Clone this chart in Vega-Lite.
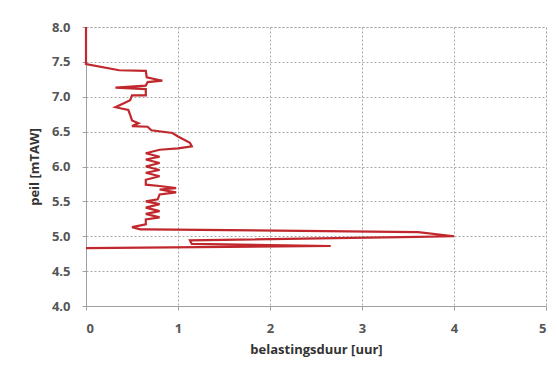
{
  "$schema": "https://vega.github.io/schema/vega-lite/v6.json",
  "autosize": "none",
  "width": 460,
  "height": 279,
  "padding": {"left": 86, "top": 27, "right": 11, "bottom": 73},
  "background": "white",
  "data": {"values": [
    {"i": 1, "duur": 0, "peil": 8.0},
    {"i": 2, "duur": 0, "peil": 7.47},
    {"i": 3, "duur": 0.36, "peil": 7.38},
    {"i": 4, "duur": 0.65, "peil": 7.37},
    {"i": 5, "duur": 0.66, "peil": 7.28},
    {"i": 6, "duur": 0.83, "peil": 7.23},
    {"i": 7, "duur": 0.67, "peil": 7.21},
    {"i": 8, "duur": 0.65, "peil": 7.16},
    {"i": 9, "duur": 0.32, "peil": 7.13},
    {"i": 10, "duur": 0.65, "peil": 7.11},
    {"i": 11, "duur": 0.65, "peil": 7.02},
    {"i": 12, "duur": 0.5, "peil": 7.02},
    {"i": 13, "duur": 0.48, "peil": 6.95},
    {"i": 14, "duur": 0.4, "peil": 6.9},
    {"i": 15, "duur": 0.32, "peil": 6.85},
    {"i": 16, "duur": 0.46, "peil": 6.81},
    {"i": 17, "duur": 0.48, "peil": 6.74},
    {"i": 18, "duur": 0.5, "peil": 6.66},
    {"i": 19, "duur": 0.57, "peil": 6.62},
    {"i": 20, "duur": 0.5, "peil": 6.58},
    {"i": 21, "duur": 0.67, "peil": 6.57},
    {"i": 22, "duur": 0.71, "peil": 6.52},
    {"i": 23, "duur": 0.94, "peil": 6.48},
    {"i": 24, "duur": 1.0, "peil": 6.43},
    {"i": 25, "duur": 1.13, "peil": 6.34},
    {"i": 26, "duur": 1.15, "peil": 6.29},
    {"i": 27, "duur": 1.0, "peil": 6.26},
    {"i": 28, "duur": 0.8, "peil": 6.24},
    {"i": 29, "duur": 0.65, "peil": 6.19},
    {"i": 30, "duur": 0.8, "peil": 6.14},
    {"i": 31, "duur": 0.65, "peil": 6.1},
    {"i": 32, "duur": 0.8, "peil": 6.05},
    {"i": 33, "duur": 0.65, "peil": 6.0},
    {"i": 34, "duur": 0.8, "peil": 5.95},
    {"i": 35, "duur": 0.65, "peil": 5.91},
    {"i": 36, "duur": 0.8, "peil": 5.86},
    {"i": 37, "duur": 0.65, "peil": 5.81},
    {"i": 38, "duur": 0.65, "peil": 5.74},
    {"i": 39, "duur": 0.8, "peil": 5.72},
    {"i": 40, "duur": 0.98, "peil": 5.69},
    {"i": 41, "duur": 0.8, "peil": 5.67},
    {"i": 42, "duur": 0.98, "peil": 5.63},
    {"i": 43, "duur": 0.8, "peil": 5.6},
    {"i": 44, "duur": 0.78, "peil": 5.53},
    {"i": 45, "duur": 0.65, "peil": 5.5},
    {"i": 46, "duur": 0.8, "peil": 5.46},
    {"i": 47, "duur": 0.65, "peil": 5.41},
    {"i": 48, "duur": 0.8, "peil": 5.36},
    {"i": 49, "duur": 0.65, "peil": 5.32},
    {"i": 50, "duur": 0.8, "peil": 5.27},
    {"i": 51, "duur": 0.65, "peil": 5.24},
    {"i": 52, "duur": 0.65, "peil": 5.17},
    {"i": 53, "duur": 0.5, "peil": 5.13},
    {"i": 54, "duur": 0.59, "peil": 5.1},
    {"i": 55, "duur": 0.65, "peil": 5.1},
    {"i": 56, "duur": 3.61, "peil": 5.06},
    {"i": 57, "duur": 4.0, "peil": 5.0},
    {"i": 58, "duur": 3.6, "peil": 4.99},
    {"i": 59, "duur": 1.13, "peil": 4.94},
    {"i": 60, "duur": 1.15, "peil": 4.89},
    {"i": 61, "duur": 2.66, "peil": 4.86},
    {"i": 62, "duur": 0, "peil": 4.83}
  ]},
  "mark": {"type": "line", "color": "#c0282d", "strokeWidth": 2.2, "strokeJoin": "miter"},
  "encoding": {
    "x": {"field": "duur", "type": "quantitative",
      "scale": {"domain": [0, 5], "nice": false},
      "axis": {"title": "belastingsduur  [uur]", "values": [0, 1, 2, 3, 4, 5], "format": "d"}},
    "y": {"field": "peil", "type": "quantitative",
      "scale": {"domain": [4, 8], "nice": false, "zero": false},
      "axis": {"title": "peil [mTAW]", "values": [4, 4.5, 5, 5.5, 6, 6.5, 7, 7.5, 8], "format": ".1f"}},
    "order": {"field": "i", "type": "quantitative"}
  },
  "config": {
    "view": {"stroke": "#b0b0b0", "strokeDash": [2, 2], "strokeWidth": 1},
    "axis": {
      "labelFont": "Open Sans", "labelFontSize": 13, "labelFontWeight": "bold", "labelColor": "#555555",
      "titleFont": "Open Sans", "titleFontSize": 13, "titleFontWeight": "bold", "titleColor": "#333333",
      "domainColor": "#a0a0a0", "tickColor": "#a0a0a0", "tickSize": 4,
      "gridColor": "#a8a8a8", "gridDash": [2, 2], "gridWidth": 1,
      "labelPadding": 12
    },
    "axisX": {"titlePadding": 8},
    "axisY": {"titlePadding": 10}
  }
}
